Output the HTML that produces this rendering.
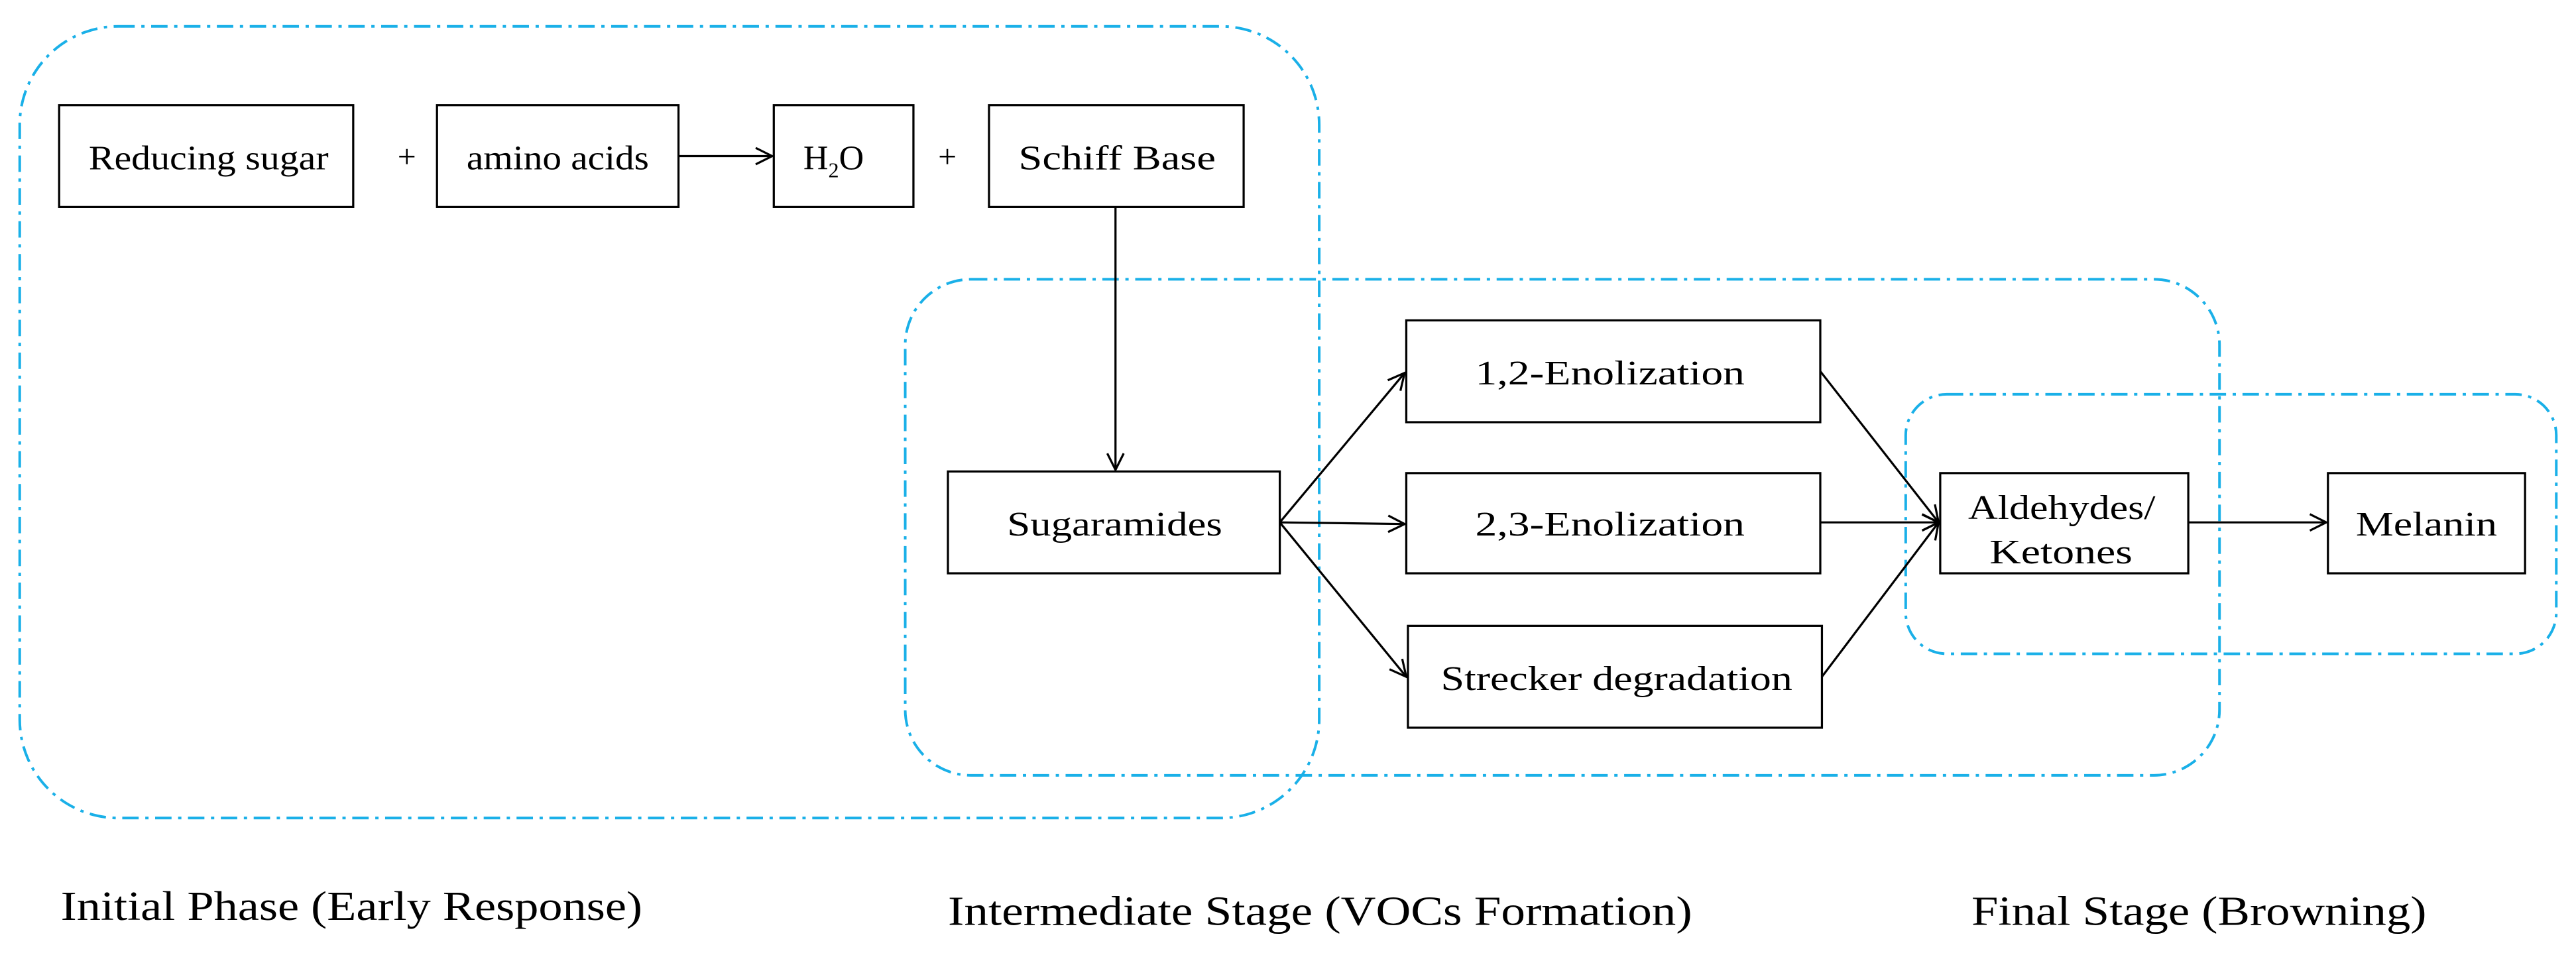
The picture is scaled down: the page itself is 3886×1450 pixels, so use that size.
<!DOCTYPE html>
<html><head><meta charset="utf-8"><style>
html,body{margin:0;padding:0;background:#fff;}
svg{display:block;}
text{font-family:"Liberation Serif",serif;fill:#000;}
</style></head><body>
<svg width="3886" height="1450" viewBox="0 0 1568 585" xmlns="http://www.w3.org/2000/svg">
<defs>
<marker id="ar" markerWidth="12" markerHeight="12" refX="11" refY="6" orient="auto" markerUnits="userSpaceOnUse">
<path d="M1,1 L11,6 L1,11" fill="none" stroke="#000" stroke-width="1.3"/>
</marker>
</defs>
<g fill="none" stroke="#1ab0e8" stroke-width="1.6" stroke-dasharray="10 4 2 4">
<rect x="12" y="16" width="791" height="482" rx="60" ry="60"/>
<rect x="551" y="170" width="800" height="302" rx="40" ry="40"/>
<rect x="1160" y="240" width="396" height="158" rx="25" ry="25"/>
</g>
<g fill="#fff" stroke="#000" stroke-width="1.3">
<rect x="36" y="64" width="179" height="62"/>
<rect x="266" y="64" width="147" height="62"/>
<rect x="471" y="64" width="85" height="62"/>
<rect x="602" y="64" width="155" height="62"/>
<rect x="577" y="287" width="202" height="62"/>
<rect x="856" y="195" width="252" height="62"/>
<rect x="856" y="288" width="252" height="61"/>
<rect x="857" y="381" width="252" height="62"/>
<rect x="1181" y="288" width="151" height="61"/>
<rect x="1417" y="288" width="120" height="61"/>
</g>
<g stroke="#000" stroke-width="1.3" fill="none" marker-end="url(#ar)">
<line x1="413" y1="95" x2="470" y2="95"/>
<line x1="679" y1="126" x2="679" y2="286"/>
<line x1="779" y1="318" x2="855" y2="227"/>
<line x1="779" y1="318" x2="855" y2="319"/>
<line x1="779" y1="318" x2="856" y2="412"/>
<line x1="1108" y1="226" x2="1180" y2="318"/>
<line x1="1108" y1="318" x2="1180" y2="318"/>
<line x1="1109" y1="412" x2="1180" y2="318"/>
<line x1="1332" y1="318" x2="1416" y2="318"/>
</g>
<g font-size="21">
<text x="54" y="103" textLength="146" lengthAdjust="spacingAndGlyphs">Reducing sugar</text>
<text x="242" y="102" font-size="20">+</text>
<text x="284" y="103" textLength="111" lengthAdjust="spacingAndGlyphs">amino acids</text>
<text x="489" y="103">H<tspan font-size="13" dy="5">2</tspan><tspan dy="-5">O</tspan></text>
<text x="571" y="102" font-size="20">+</text>
<text x="620" y="103" textLength="120" lengthAdjust="spacingAndGlyphs" fill="#333">Schiff Base</text>
<text x="613" y="326" textLength="131" lengthAdjust="spacingAndGlyphs">Sugaramides</text>
<text x="898" y="234" textLength="164" lengthAdjust="spacingAndGlyphs">1,2-Enolization</text>
<text x="898" y="326" textLength="164" lengthAdjust="spacingAndGlyphs">2,3-Enolization</text>
<text x="877" y="420" textLength="214" lengthAdjust="spacingAndGlyphs">Strecker degradation</text>
<text x="1198" y="316" textLength="114" lengthAdjust="spacingAndGlyphs">Aldehydes/</text>
<text x="1211" y="343" textLength="87" lengthAdjust="spacingAndGlyphs">Ketones</text>
<text x="1434" y="326" textLength="86" lengthAdjust="spacingAndGlyphs">Melanin</text>
</g>
<g font-size="25">
<text x="37" y="560" textLength="354" lengthAdjust="spacingAndGlyphs">Initial Phase (Early Response)</text>
<text x="577" y="563" textLength="453" lengthAdjust="spacingAndGlyphs">Intermediate Stage (VOCs Formation)</text>
<text x="1200" y="563" textLength="277" lengthAdjust="spacingAndGlyphs">Final Stage (Browning)</text>
</g>
</svg>
</body></html>
